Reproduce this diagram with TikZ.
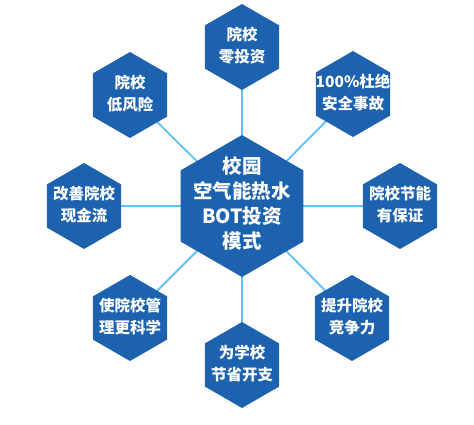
\documentclass[tikz,border=0pt]{standalone}
\usepackage{fontspec}
\newfontfamily\cjk{Noto Sans CJK SC}
\usetikzlibrary{shapes.geometric,backgrounds}
\definecolor{hexblue}{HTML}{1C62AE}
\definecolor{linkblue}{HTML}{5CC3EE}
\newcommand\hexlabel[1]{\smash{\makebox[0pt]{\raisebox{-.27em}{$\vcenter{\hbox{\begin{tabular}{@{}c@{}}#1\end{tabular}}}$}}}}
\tikzset{
  hexbase/.style={regular polygon, regular polygon sides=6, shape border rotate=30, fill=hexblue, draw=none, inner sep=0pt, text=white},
  smallhex/.style={hexbase, minimum size=86pt, font=\cjk\bfseries\fontsize{15.5}{22}\selectfont},
  bighex/.style={hexbase, minimum size=142pt, font=\cjk\bfseries\fontsize{19.5}{25}\selectfont},
  link/.style={draw=linkblue, line width=1.8pt}
}
\begin{document}
\begin{tikzpicture}[x=1pt,y=-1pt]
\useasboundingbox (0,0) rectangle (474,425);
\node[bighex] (c) at (242,206) {\hexlabel{校园\\空气能热水\\BOT投资\\模式}};
\node[smallhex] (n) at (242,47) {\hexlabel{院校\\零投资}};
\node[smallhex] (ne) at (353,94) {\hexlabel{100\%杜绝\\安全事故}};
\node[smallhex] (e) at (400,206) {\hexlabel{院校节能\\有保证}};
\node[smallhex] (se) at (352,318) {\hexlabel{提升院校\\竞争力}};
\node[smallhex] (s) at (242,365) {\hexlabel{为学校\\节省开支}};
\node[smallhex] (sw) at (130,318) {\hexlabel{使院校管\\理更科学}};
\node[smallhex] (w) at (84,206) {\hexlabel{改善院校\\现金流}};
\node[smallhex] (nw) at (130,95) {\hexlabel{院校\\低风险}};
\begin{scope}[on background layer]
\foreach \t in {n,ne,e,se,s,sw,w,nw} \draw[link] (c.center) -- (\t.center);
\end{scope}
\end{tikzpicture}
\end{document}
